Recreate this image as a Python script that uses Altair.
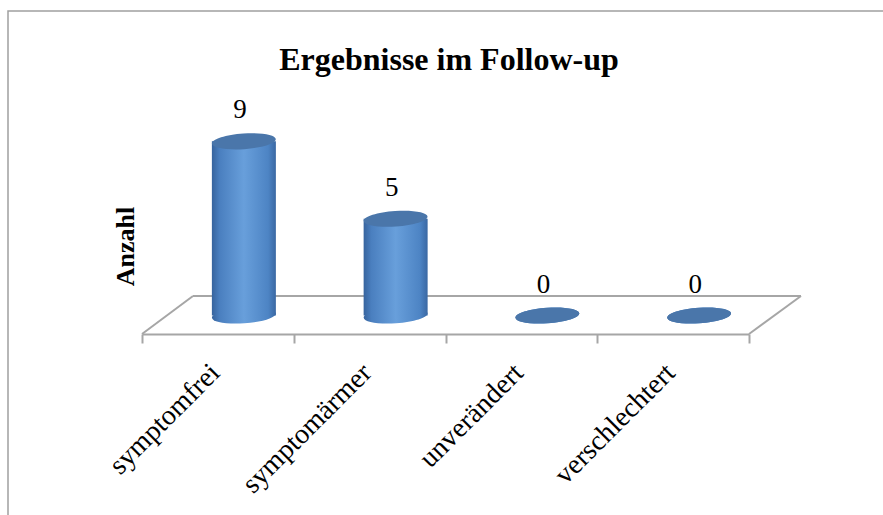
import altair as alt
import pandas as pd

# ---- data ----
categories = ["symptomfrei", "symptomärmer", "unverändert", "verschlechtert"]
values = [9, 5, 0, 0]
title_text = "Ergebnisse im Follow-up"
y_title = "Anzahl"

df = pd.DataFrame({"Kategorie": categories, "Anzahl": values})
one = pd.DataFrame({"k": [0]})

# ---- layout ----
W, H = 607, 193.5
LEFT, TOP = 142, 122
FRONT_Y = 212          # front floor edge (relative to plot top)
BACK_Y = 174           # back floor edge
DEPTH_X = 52
HALF_DX = 26
GRID = "#a6a6a6"
SERIF = "Liberation Serif"

body = alt.Gradient(
    gradient="linear", x1=0, x2=1, y1=0, y2=0,
    stops=[
        alt.GradientStop(offset=0, color="#37649e"),
        alt.GradientStop(offset=0.12, color="#4a7fbf"),
        alt.GradientStop(offset=0.5, color="#689fdb"),
        alt.GradientStop(offset=0.88, color="#4d84c4"),
        alt.GradientStop(offset=1, color="#3a68a3"),
    ],
)
TOP_COLOR = "#4a76aa"

ry, k = 0.244, 0.552
a = round(ry * k, 3)
ELLIPSE = (f"M-1,0C-1,-{a},-{k},-{ry},0,-{ry}C{k},-{ry},1,-{a},1,0"
           f"C1,{a},{k},{ry},0,{ry}C-{k},{ry},-1,{a},-1,0Z")
ESIZE = 64 * 64

x_enc = alt.X(
    "Kategorie:N", sort=categories,
    scale=alt.Scale(type="band", paddingInner=0, paddingOuter=0),
    axis=alt.Axis(
        title=None, domainColor=GRID, domainWidth=2, tickColor=GRID, tickWidth=2,
        tickSize=9, tickBand="extent", labelAngle=315, labelAlign="right",
        labelBaseline="alphabetic", labelFont=SERIF, labelFontSize=28,
        labelColor="black", labelPadding=31, labelOffset=3, offset=18.5,
        labelOverlap=False, labelBound=False, grid=False,
    ),
)
y_scale = alt.Scale(domain=[0, 10])
y_axis = alt.Axis(
    title=y_title, domain=False, ticks=False, labels=False, grid=False,
    titleFont=SERIF, titleFontSize=26, titleFontWeight="bold", titleColor="black",
    titleAngle=270, titleX=-9, titleY=124, titleAlign="center",
    titleBaseline="alphabetic",
)

frame = alt.Chart(one).mark_rect(fill="transparent", stroke="#a0a0a0", strokeWidth=1.5).encode(
    x=alt.value(8 - LEFT), x2=alt.value(900), y=alt.value(11 - TOP), y2=alt.value(600)
)
title = alt.Chart(one).mark_text(
    text=title_text, font=SERIF, fontSize=32, fontWeight="bold", color="black",
    align="center", baseline="alphabetic",
).encode(x=alt.value(449 - LEFT), y=alt.value(70 - TOP))

back = alt.Chart(one).mark_rule(color=GRID, strokeWidth=2).encode(
    x=alt.value(DEPTH_X - 1), x2=alt.value(W + DEPTH_X), y=alt.value(BACK_Y), y2=alt.value(BACK_Y)
)
left_edge = alt.Chart(one).mark_rule(color=GRID, strokeWidth=2).encode(
    x=alt.value(0), x2=alt.value(DEPTH_X - 1), y=alt.value(FRONT_Y), y2=alt.value(BACK_Y)
)
right_edge = alt.Chart(one).mark_rule(color=GRID, strokeWidth=2).encode(
    x=alt.value(W), x2=alt.value(W + DEPTH_X), y=alt.value(FRONT_Y), y2=alt.value(BACK_Y)
)

base = alt.Chart(df)

bottom_ell = base.mark_point(
    shape=ELLIPSE, size=ESIZE, filled=True, color=body, opacity=1, strokeWidth=0,
    xOffset=HALF_DX, angle=356,
).encode(x=x_enc, y=alt.Y(datum=0, scale=y_scale, axis=y_axis))

bars = base.mark_bar(size=64, xOffset=HALF_DX, color=body).encode(
    x=x_enc, y=alt.Y("Anzahl:Q", scale=y_scale, axis=y_axis)
)

top_ell = base.mark_point(
    shape=ELLIPSE, size=ESIZE, filled=True, color=TOP_COLOR, opacity=1, strokeWidth=0,
    xOffset=HALF_DX, angle=356,
).encode(x=x_enc, y=alt.Y("Anzahl:Q", scale=y_scale, axis=y_axis))

labels = base.mark_text(
    font=SERIF, fontSize=27, color="black", dy=-23, xOffset=HALF_DX - 4,
    align="center", baseline="alphabetic",
).encode(x=x_enc, y=alt.Y("Anzahl:Q", scale=y_scale, axis=y_axis), text="Anzahl:Q")

chart = alt.layer(frame, title, back, left_edge, right_edge, bottom_ell, bars, top_ell, labels).properties(
    width=W, height=H,
    autosize=alt.AutoSizeParams(type="none"),
    padding={"left": LEFT, "top": TOP, "right": 883 - LEFT - W, "bottom": 515 - TOP - H},
    background="white",
).configure_view(stroke=None)

chart.save("out.html", embed_options={"renderer": "svg", "actions": False})
